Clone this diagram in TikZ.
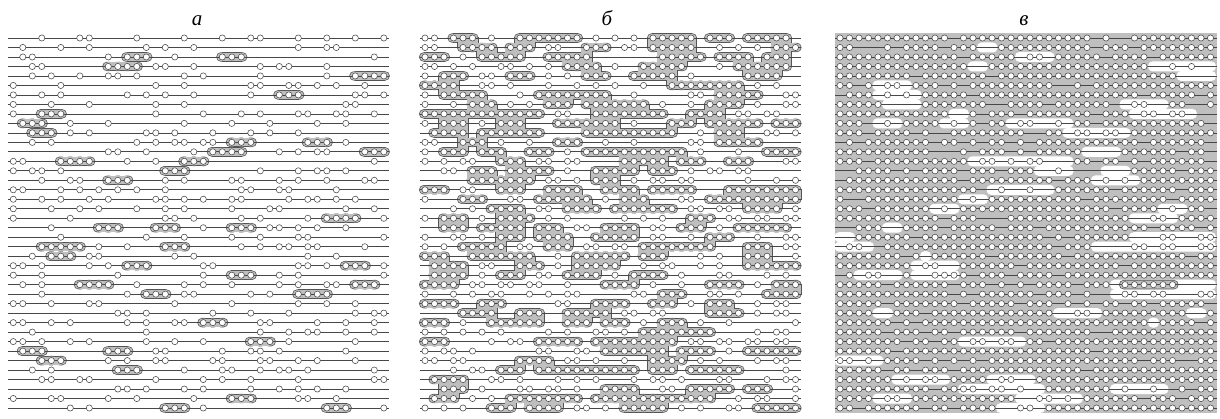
\documentclass[tikz,border=0pt]{standalone}
\usepackage{fontspec}
\newfontfamily\labfont{Liberation Serif}
\definecolor{blobfill}{gray}{0.75}
\definecolor{blobedge}{gray}{0.33}
\definecolor{linecol}{gray}{0.28}
\definecolor{bgfill}{gray}{0.75}
\def\occat#1#2#3{\ifcsname o#1:\the\numexpr#2\relax:\the\numexpr#3\relax\endcsname\csname o#1:\the\numexpr#2\relax:\the\numexpr#3\relax\endcsname\else0\fi}
\def\greyat#1#2#3{\ifcsname g#1:\the\numexpr#2\relax:\the\numexpr#3\relax\endcsname\csname g#1:\the\numexpr#2\relax:\the\numexpr#3\relax\endcsname\else0\fi}
\newcommand\genpanel[3]{%
  \pgfmathsetseed{#3}%
  \foreach \r in {0,...,39}{\foreach \c in {0,...,39}{%
    \pgfmathtruncatemacro\rndval{rnd<#2 ? 1 : 0}%
    \expandafter\xdef\csname o#1:\r:\c\endcsname{\rndval}}}}
\newcommand\calcgrey[1]{%
  \foreach \r in {0,...,39}{\foreach \c in {0,...,39}{%
    \expandafter\xdef\csname g#1:\r:\c\endcsname{0}%
    \ifnum\occat{#1}{\r}{\c}=1\relax
      \ifnum\numexpr\occat{#1}{\r}{\c-1}*\occat{#1}{\r}{\c-2}+\occat{#1}{\r}{\c-1}*\occat{#1}{\r}{\c+1}+\occat{#1}{\r}{\c+1}*\occat{#1}{\r}{\c+2}\relax>0\relax
        \expandafter\xdef\csname g#1:\r:\c\endcsname{1}%
      \fi
    \fi}}}
\newcommand\drawblobs[4]{%
  \foreach \r in {0,...,39}{\foreach \c in {0,...,39}{%
    \ifnum\greyat{#1}{\r}{\c}=1\relax
      \pgfmathsetmacro\xx{#2+9.5*\c}\pgfmathsetmacro\yy{38+9.487*\r}%
      \path[#3,rounded corners=4pt] (\xx-5.3,\yy-4) rectangle (\xx+5.3,\yy+4);
      \ifnum\greyat{#1}{\r}{\c+1}=1\relax
        \path[#3] (\xx,\yy-4) rectangle (\xx+9.5,\yy+4);\fi
      \ifnum#4=1\relax
        \ifnum\greyat{#1}{\r+1}{\c}=1\relax
          \path[#3] (\xx-5.3,\yy) rectangle (\xx+5.3,\yy+9.487);
          \ifnum\numexpr\greyat{#1}{\r}{\c+1}*\greyat{#1}{\r+1}{\c+1}\relax=1\relax
            \path[#3] (\xx,\yy) rectangle (\xx+9.5,\yy+9.487);\fi
        \fi
      \fi
    \fi}}}
\newcommand\drawchains[3]{%
  \foreach \r in {0,...,39}{\draw[chain] (#2,{38+9.487*\r}) -- (#3,{38+9.487*\r});}%
  \foreach \r in {0,...,39}{\foreach \c in {0,...,39}{%
    \ifnum\occat{#1}{\r}{\c}=1\relax
      \path[bead] ({#2+5+9.5*\c},{38+9.487*\r}) circle[radius=3.1pt];\fi}}}
\def\holelist{1/15/16,2/19/22,3/14/15,3/33/39,4/36/39,5/4/7,6/4/8,7/5/8,7/30/34,8/31/37,8/12/13,9/11/13,9/4/6,9/18/24,10/24/30,12/26/29,13/14/24,14/21/24,14/28/30,15/27/31,16/16/22,17/13/15,18/10/12,18/34/36,19/31/35,20/5/6,21/0/1,22/0/3,21/31/39,22/27/39,23/9/9,24/8/12,25/8/12,25/2/6,26/29/39,27/29/39,29/4/5,29/23/27,29/37/38,30/33/33,32/13/19,34/0/4,36/6/11,36/16/20,37/13/21,38/19/25,37/29/34,38/4/7,39/17/21}
\def\holebeads{2/20,2/21,3/35,3/37,5/5,5/6,6/5,6/7,7/31,7/32,8/32,8/33,8/35,8/36,9/12,9/5,9/19,9/20,9/23,10/25,10/26,10/28,10/29,13/15,13/16,13/18,13/20,13/21,14/23,15/28,15/30,16/17,16/20,17/14,18/11,18/35,19/33,19/34,22/1,22/2,21/34,21/35,21/38,21/39,22/31,22/32,22/34,22/35,22/38,22/39,24/9,24/10,25/10,25/11,25/12,25/3,25/4,26/30,26/31,26/32,26/33,26/34,26/35,27/30,27/31,27/33,27/34,27/38,27/39,29/25,29/26,32/14,32/15,32/17,32/18,34/0,34/1,34/3,36/7,36/9,36/10,36/17,36/18,37/13,37/14,37/16,37/17,37/19,38/21,38/22,38/24,37/30,37/33,38/5,38/6,39/19,39/20}
\tikzset{
  chain/.style={draw=linecol, line width=0.7pt},
  bead/.style={draw=linecol, fill=white, line width=0.55pt},
  blobout/.style={draw=blobedge, fill=blobedge, line width=1.4pt},
  blobin/.style={fill=blobfill},
  holepatch/.style={fill=white, rounded corners=4.5pt},
  lab/.style={font=\labfont\itshape\fontsize{21}{21}\selectfont, inner sep=0pt, anchor=base}
}
\begin{document}
\begin{tikzpicture}[x=1pt,y=-1pt]
\useasboundingbox (0,0) rectangle (1220,418);
\genpanel{A}{0.29}{4242}
\genpanel{B}{0.62}{2468}
\genpanel{C}{0.87}{909}
\foreach \hr/\hs/\he in \holelist {\foreach \c in {\hs,...,\he}{\expandafter\xdef\csname oC:\hr:\c\endcsname{0}}}
\foreach \hr/\hc in \holebeads {\expandafter\xdef\csname oC:\hr:\hc\endcsname{1}}
\calcgrey{A}
\calcgrey{B}
% labels
\node[lab] (la) at (197,25) {а};
\node[lab] (lb) at (607,25) {б};
\node[lab] (lc) at (1024,25) {в};
% panel a
\drawblobs{A}{13.3}{blobout}{0}
\drawblobs{A}{13.3}{blobin}{0}
\drawchains{A}{8.3}{389}
% panel b
\drawblobs{B}{425}{blobout}{1}
\drawblobs{B}{425}{blobin}{1}
\drawchains{B}{420}{801}
% panel c
\fill[bgfill] (835,33) rectangle (1217,413);
\foreach \hr/\hs/\he in \holelist {
  \path[holepatch] ({840+9.5*\hs-5.5},{38+9.487*\hr-5}) rectangle ({840+9.5*\he+5.5},{38+9.487*\hr+5});
}
\path[blobout,rounded corners=4pt] ({840+9.5*30-5.3},{38+9.487*26-4}) rectangle ({840+9.5*35+5.3},{38+9.487*26+4});
\path[blobin,rounded corners=4pt] ({840+9.5*30-5.3},{38+9.487*26-4}) rectangle ({840+9.5*35+5.3},{38+9.487*26+4});
\drawchains{C}{835}{1217}
\end{tikzpicture}
\end{document}
